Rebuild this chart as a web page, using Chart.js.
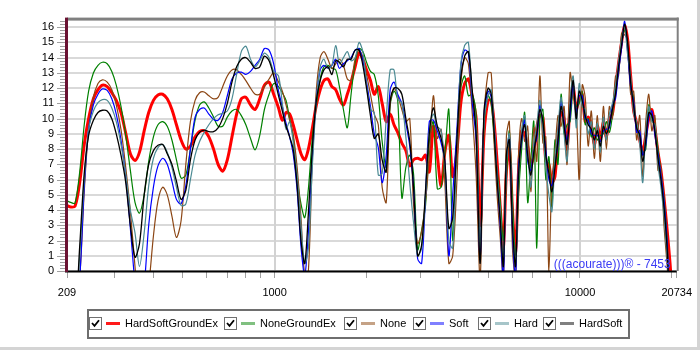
<!DOCTYPE html>
<html>
<head>
<meta charset="utf-8">
<script src="https://cdn.jsdelivr.net/npm/chart.js@4.4.0/dist/chart.umd.min.js"></script>
<style>
  html, body { margin: 0; padding: 0; background: #fff; }
  #wrap { position: relative; width: 700px; height: 350px; overflow: hidden; font-family: "Liberation Sans", Arial, sans-serif; }
  #wrap canvas { position: absolute; left: 0; top: 0; }
  #edgeR { position: absolute; left: 697px; top: 0; width: 3px; height: 350px; background: #d4d4d4; }
  #edgeB { position: absolute; left: 0; top: 347px; width: 700px; height: 3px; background: #d4d4d4; }
  #legend { position: absolute; left: 87px; top: 309px; width: 539px; height: 26px; border: 2px solid #6e6e6e; }
  .item { position: absolute; top: 0; height: 26px; font-size: 11px; color: #000; }
  .cb { position: absolute; left: 0; top: 6px; width: 11px; height: 11px; border: 1px solid #707070; background: #fff; }
  .cb svg { position: absolute; left: 1px; top: 1px; }
  .sw { position: absolute; left: 17px; top: 11px; width: 14px; height: 3px; }
  .tx { position: absolute; left: 36px; top: 6px; white-space: nowrap; line-height: 13px; }
</style>
</head>
<body>
<div id="wrap">
  <canvas id="c" width="700" height="350"></canvas>
  <div id="legend"></div>
  <div id="edgeR"></div>
  <div id="edgeB"></div>
</div>
<script>
// frequenze (Hz)
const freqs = [
  209, 215, 222, 230, 238, 246, 255, 264, 273, 283, 293, 303, 314, 325, 337, 349, 361, 374, 387, 401, 415, 430, 445,
  461, 477, 494, 512, 530, 549, 568, 588, 609, 631, 653, 676, 700, 725, 751, 778, 805, 834, 863, 894, 926, 959, 993,
  1030, 1060, 1090, 1120, 1150, 1185, 1220, 1255, 1290, 1330, 1370, 1410, 1450, 1495, 1540, 1585, 1630, 1680, 1730, 1780,
  1835, 1890, 1945, 2000, 2060, 2120, 2185, 2250, 2320, 2390, 2460, 2530, 2610, 2690, 2770, 2850, 2940, 3030, 3120, 3210,
  3310, 3410, 3510, 3610, 3720, 3830, 3950, 4070, 4190, 4310, 4440, 4570, 4710, 4850, 5000,
  5120, 5240, 5360, 5480, 5610, 5740, 5870, 6010, 6150, 6290, 6440, 6590, 6740, 6900, 7060, 7220, 7390, 7560, 7730, 7910,
  8090, 8280, 8470, 8670, 8870, 9070, 9280, 9500, 9720, 9940, 10170, 10400, 10640, 10890, 11140, 11400, 11660, 11930, 12200, 12480,
  12770, 13070, 13370, 13680, 14000, 14320, 14650, 14990, 15330, 15690, 16050, 16420, 16800, 17190, 17590, 18000, 18410, 18840, 19270, 19720,
  20170, 20734
];

const hardSoftGroundEx = [
  4.3, 4.2, 4.25, 5.8, 8.3, 10.0, 11.3, 11.9, 12.2, 12.1, 11.7, 11.2, 10.4, 9.1, 7.7, 7.25, 7.8, 9.2, 10.4, 11.2, 11.55, 11.6, 11.3,
  10.6, 9.6, 8.6, 8.0, 8.2, 8.8, 9.15, 9.2, 8.8, 8.0, 7.0, 6.55, 7.3, 8.8, 10.3, 11.3, 11.4, 10.9, 10.6, 11.3, 12.2, 12.4, 11.6,
  10.7, 9.9, 10.4, 10.3, 9.6, 8.6, 7.7, 7.3, 8.0, 9.4, 10.9, 11.9, 12.5, 12.6, 12.1, 11.9, 11.3, 10.9, 11.6, 12.4,
  13.4, 14.3, 13.9, 13.2, 12.5, 11.6, 12.1, 11.0, 9.8, 10.3, 9.6, 9.1, 8.4, 7.9, 6.9, 7.3, 7.4, 7.3, 7.6, 6.5,
  9.5, 7.6, 5.6, 7.8, 8.9, 6.2, 7.8, 11.0, 12.3, 12.6, 11.4, 10.0, 3.0, 9.0, 11.2,
  11.2, 9.6, 7.0, 4.2, 1.5, 6.5, 8.2, 4.0, 1.2, 6.5, 9.2, 9.0, 8.2, 7.0, 7.6, 9.4, 10.2, 10.1, 7.2, 7.0,
  5.8, 6.2, 8.8, 10.4, 10.0, 8.0, 10.9, 12.1, 10.6, 11.3, 11.6, 9.8, 10.1, 9.6, 8.3, 9.5, 8.7, 9.8, 8.8, 10.0,
  10.3, 12.0, 13.6, 15.0, 16.1, 15.2, 12.8, 10.5, 9.7, 8.6, 7.8, 8.9, 10.0, 10.6, 9.4, 7.8, 6.6, 4.8, 2.8, 0.5,
  -2, -2
];

const noneGroundEx = [
  4.6, 4.5, 4.45, 6.5, 9.6, 11.8, 13.0, 13.5, 13.7, 13.6, 13.1, 12.2, 10.8, 9.0, 6.6, 4.5, 3.8, 5.0, 7.2, 8.8, 9.6, 9.8, 9.5,
  8.6, 7.3, 6.1, 6.3, 8.0, 9.9, 10.9, 11.1, 10.7, 10.1, 9.5, 9.5, 10.1, 10.5, 10.6, 10.2, 9.6, 8.7, 7.95, 8.9, 10.6, 11.6, 12.3,
  12.1, 11.7, 11.2, 10.0, 8.8, 6.1, 4.4, 3.5, 5.4, 8.8, 10.9, 12.6, 13.4, 13.5, 13.3, 13.2, 12.1, 10.6, 9.4, 11.6,
  13.7, 14.6, 14.4, 13.7, 13.1, 12.9, 11.5, 8.5, 6.8, 10.9, 11.8, 11.2, 4.8, 6.8, 7.6, 6.4, 1.4, 2.7, 4.3, 8.5,
  9.8, 5.4, 5.5, 7.7, 10.6, 2.0, 8.6, 12.0, 12.8, 11.5, 11.6, 10.2, 1.0, 9.5, 11.5,
  11.0, 8.5, 6.5, 4.5, 2.0, 6.0, 9.2, 4.5, 1.0, 5.0, 8.0, 10.4, 4.5, 7.2, 9.8, 1.5, 10.0, 10.6, 6.0, 7.5,
  4.2, 8.6, 7.0, 11.6, 9.0, 9.6, 9.8, 12.0, 10.8, 11.0, 11.8, 9.6, 10.0, 8.8, 9.4, 8.6, 8.9, 9.0, 9.8, 9.1,
  10.2, 11.8, 13.0, 14.9, 15.8, 14.8, 12.0, 11.4, 9.2, 9.0, 7.8, 8.0, 10.9, 10.0, 9.5, 8.0, 6.5, 4.8, 2.2, -2,
  -2, -2
];

const none = [
  -3, -3, -3, -0.5, 5.2, 9.3, 11.4, 12.3, 12.55, 12.4, 11.9, 10.9, 9.3, 6.9, 3.9, 0.3, -3, -3, -1, 2.3, 4.6, 5.5, 5.0,
  3.6, 2.2, 3.3, 7.0, 9.8, 11.2, 11.7, 11.75, 11.5, 11.3, 11.4, 12.1, 12.8, 13.2, 13.2, 12.9, 12.5, 12.0, 11.6, 11.6, 12.1, 12.6, 13.0,
  12.4, 11.8, 10.9, 9.9, 9.0, 6.8, 3.5, -0.3, 0.0, 7.6, 11.9, 14.0, 14.4, 13.9, 13.3, 13.6, 13.9, 13.5, 12.6, 12.5,
  13.9, 14.5, 14.0, 12.9, 11.6, 10.3, 9.6, 5.5, 4.5, 11.0, 12.0, 11.5, 10.6, 9.8, 10.0, 4.4, 1.8, 2.6, 4.6, 7.5,
  11.5, 8.7, 9.3, 5.8, 0.5, 1.0, 5.8, 12.2, 14.0, 13.6, 10.3, 6.3, -0.5, 10.0, 13.0,
  13.0, 8.2, 4.8, 2.2, -0.5, 8.8, 9.8, 1.5, -0.5, 7.5, 10.0, 8.5, 9.5, 5.2, 9.4, 7.2, 12.8, 8.4, 8.8, 0.0,
  6.0, 7.8, 10.2, 9.5, 10.8, 7.0, 13.0, 11.5, 10.5, 6.0, 12.2, 11.4, 8.2, 10.5, 7.4, 10.2, 7.2, 10.8, 8.0, 10.8,
  10.0, 12.8, 12.8, 15.6, 15.5, 15.2, 11.6, 11.8, 8.6, 10.2, 6.2, 9.8, 11.6, 9.2, 10.2, 6.6, 6.8, 3.0, 0.5, -2,
  -2, -2
];

const soft = [
  -3, -3, -3, -0.5, 5.5, 9.3, 10.9, 11.6, 11.95, 11.85, 11.3, 10.3, 8.6, 6.3, 2.8, -0.8, -3, -1, 3.0, 5.5, 6.9, 7.4, 7.0,
  5.9, 4.7, 4.4, 5.6, 8.0, 10.1, 10.6, 10.7, 10.3, 9.95, 9.9, 10.4, 11.5, 12.6, 13.0, 13.05, 12.9, 13.1, 13.5, 13.9, 14.6, 14.5, 13.6,
  11.8, 10.8, 9.7, 8.8, 7.7, 5.3, 1.6, -0.3, 2.5, 7.5, 11.3, 13.2, 13.5, 13.3, 13.5, 13.9, 13.3, 13.6, 13.8, 14.0,
  14.5, 14.6, 13.8, 12.4, 10.8, 9.0, 8.1, 5.8, 7.6, 11.9, 12.4, 11.6, 11.0, 9.7, 8.2, 5.5, 0.8, 0.5, 5.0, 9.8,
  9.9, 9.2, 8.4, 7.2, 1.0, 5.0, 9.2, 13.4, 14.5, 14.3, 11.0, 8.6, 0.8, 10.2, 11.8,
  11.4, 9.3, 6.0, 3.0, -0.5, 7.2, 8.9, 2.5, -0.5, 6.8, 8.5, 9.9, 7.2, 6.6, 8.1, 8.7, 10.9, 9.5, 7.9, 6.0,
  5.6, 7.1, 8.3, 11.1, 9.8, 8.6, 10.2, 12.2, 10.4, 11.5, 11.5, 10.0, 9.9, 9.0, 8.9, 8.9, 8.5, 9.2, 9.3, 9.4,
  10.9, 11.3, 13.1, 14.6, 16.4, 14.4, 12.1, 11.1, 9.1, 9.2, 7.6, 8.3, 10.1, 10.5, 8.9, 7.7, 6.3, 4.6, 2.0, -2,
  -2, -2
];

const hard = [
  -3, -3, -3, 1.0, 6.0, 9.3, 10.5, 11.05, 11.25, 11.2, 10.7, 9.8, 8.3, 6.4, 4.0, 2.5, 0.3, 2.5, 5.6, 7.4, 8.1, 8.3, 7.8,
  6.8, 5.5, 4.3, 4.4, 6.0, 7.6, 8.5, 9.1, 9.6, 10.0, 10.25, 10.35, 10.5, 11.3, 12.9, 14.4, 14.75, 13.9, 13.4, 13.8, 14.3, 14.0, 13.1,
  12.8, 11.0, 9.3, 9.8, 8.5, 6.2, 3.0, 0.5, 1.5, 7.0, 11.2, 13.4, 13.9, 13.3, 13.5, 14.8, 13.6, 14.0, 14.4, 13.8,
  14.0, 15.0, 14.4, 12.2, 10.6, 10.4, 6.3, 6.4, 10.0, 13.2, 13.2, 11.3, 11.0, 8.8, 5.8, 3.2, 1.0, 1.5, 5.0, 9.2,
  10.3, 9.5, 9.2, 7.0, 2.0, 1.5, 8.3, 13.6, 14.8, 15.0, 11.5, 9.7, 1.5, 9.8, 11.5,
  11.9, 9.5, 6.2, 4.0, 0.8, 7.0, 9.0, 3.5, 0.5, 5.6, 9.3, 10.2, 8.0, 5.5, 8.4, 9.6, 11.2, 9.3, 6.8, 5.0,
  3.9, 7.4, 9.4, 11.4, 9.0, 7.2, 11.2, 12.8, 9.4, 12.3, 10.8, 10.6, 9.0, 9.8, 8.0, 9.7, 7.8, 10.1, 8.6, 10.3,
  11.0, 12.2, 13.8, 15.2, 16.0, 14.2, 12.8, 10.3, 9.8, 8.3, 5.8, 9.2, 10.8, 9.8, 9.6, 7.0, 5.5, 3.6, 1.0, -2,
  -2, -2
];

const hardSoft = [
  -3, -3, -3, 1.6, 6.4, 8.9, 9.9, 10.4, 10.55, 10.5, 10.0, 9.0, 7.6, 5.9, 3.0, 0.9, 1.8, 5.0, 7.0, 7.9, 8.25, 8.3, 7.7,
  7.0, 5.9, 4.7, 5.3, 7.3, 8.6, 9.1, 9.25, 9.15, 9.15, 9.4, 10.0, 11.0, 12.4, 13.4, 13.9, 14.0, 13.7, 13.3, 13.4, 14.1, 13.8, 12.8,
  11.5, 10.5, 9.5, 8.8, 8.0, 5.6, 2.0, 0.5, 3.8, 8.2, 11.2, 12.5, 13.2, 13.4, 12.9, 13.8, 13.7, 13.4, 13.9, 13.9,
  14.5, 14.5, 13.5, 12.0, 10.2, 8.7, 9.0, 7.3, 6.5, 11.2, 12.0, 12.0, 11.6, 10.0, 8.5, 5.5, 1.0, 1.7, 5.3, 9.0,
  10.7, 9.5, 8.7, 7.2, 2.8, 3.5, 8.5, 12.7, 14.1, 14.4, 11.8, 9.0, 0.5, 10.5, 12.0,
  11.6, 9.0, 5.8, 3.4, 0.3, 7.6, 8.6, 3.0, 0.3, 6.3, 8.8, 9.6, 7.6, 6.3, 7.8, 9.0, 10.6, 9.8, 7.6, 6.4,
  5.2, 6.8, 8.6, 10.8, 9.5, 8.3, 10.6, 12.5, 10.0, 11.8, 11.2, 10.2, 9.6, 9.3, 8.6, 9.2, 8.2, 9.5, 9.0, 9.6,
  10.6, 11.6, 13.4, 14.8, 16.2, 15.0, 12.4, 10.8, 9.4, 8.9, 7.2, 8.6, 10.4, 10.2, 9.2, 7.4, 6.0, 4.2, 1.6, -2,
  -2, -2
];

const seriesNames = ['HardSoftGroundEx', 'NoneGroundEx', 'None', 'Soft', 'Hard', 'HardSoft'];
const seriesValues = [hardSoftGroundEx, noneGroundEx, none, soft, hard, hardSoft];
const lineColors = ['#ff0000', '#008000', '#8b4513', '#0000ff', '#4b8a93', '#000000'];
const swatchColors = ['#ff1a1a', '#80c080', '#c5a286', '#8080ff', '#a6c5c9', '#808080'];
const lineWidths = [3, 1.2, 1.2, 1.2, 1.2, 1.3];

const xTicks = [209, 300, 400, 500, 600, 700, 800, 900, 1000, 2000, 3000, 4000, 5000, 6000, 7000, 8000, 9000, 10000, 20000, 20734];
const xLabels = [209, 1000, 10000, 20734];
const xGridAt = [1000, 10000];
const yTicks = [0, 1, 2, 3, 4, 5, 6, 7, 8, 9, 10, 11, 12, 13, 14, 15, 16];

// legenda con le caselline
const legendPos = [89, 224, 344, 413, 478, 543];
const legend = document.getElementById('legend');
seriesNames.forEach((name, i) => {
  const item = document.createElement('div');
  item.className = 'item';
  item.style.left = (legendPos[i] - 89) + 'px';
  item.innerHTML =
    '<span class="cb"><svg width="9" height="9"><path d="M1 4 L3.5 6.8 L8 1.2" stroke="#000" stroke-width="1.8" fill="none"/></svg></span>' +
    '<span class="sw" style="background:' + swatchColors[i] + '"></span>' +
    '<span class="tx">' + name + '</span>';
  legend.appendChild(item);
});

// griglia verticale, bordi, tacche minori e scritta
const framePlugin = {
  id: 'frame',
  beforeDatasetsDraw(chart) {
    const { ctx, chartArea: a, scales: { x } } = chart;
    ctx.save();
    ctx.fillStyle = '#d2d2d2';
    xGridAt.forEach(v => {
      const px = Math.round(x.getPixelForValue(v));
      ctx.fillRect(px - 1, a.top, 2, a.bottom - a.top);
    });
    ctx.restore();
  },
  afterDatasetsDraw(chart) {
    const { ctx, chartArea: a, scales: { y } } = chart;
    ctx.save();
    ctx.strokeStyle = '#a0a0a0';
    ctx.lineWidth = 1;
    for (let i = 0; i <= 82; i++) {
      const py = Math.round(y.getPixelForValue(i / 5)) + 0.5;
      const len = i % 5 === 0 ? 10 : 7;
      ctx.beginPath();
      ctx.moveTo(a.left - len, py);
      ctx.lineTo(a.left, py);
      ctx.stroke();
    }
    ctx.fillStyle = '#808080';
    ctx.fillRect(a.left, a.top - 2, a.right - a.left + 2, 3);
    ctx.fillRect(a.right, a.top - 2, 2, a.bottom - a.top + 2);
    ctx.fillStyle = '#000';
    ctx.fillRect(a.left - 2, a.bottom - 0.5, a.right - a.left + 2, 2);
    ctx.fillStyle = '#6a1232';
    ctx.fillRect(a.left - 2, a.top - 2, 3, a.bottom - a.top + 3);

    ctx.font = '12px "Liberation Sans", Arial, sans-serif';
    ctx.fillStyle = '#3b3bf5';
    ctx.textAlign = 'right';
    ctx.textBaseline = 'alphabetic';
    ctx.fillText('(((acourate)))® - 7453', a.right - 6, a.bottom - 3);
    ctx.restore();
  }
};

Chart.defaults.font.family = '"Liberation Sans", Arial, sans-serif';
Chart.defaults.font.size = 11;
Chart.defaults.color = '#000';

const datasets = seriesNames.map((name, i) => ({
  label: name,
  data: freqs.map((f, k) => ({ x: f, y: seriesValues[i][k] })),
  borderColor: lineColors[i],
  borderWidth: lineWidths[i],
  pointRadius: 0,
  tension: 0.3,
  fill: false,
  clip: 0,
  order: i === 0 ? 6 : 6 - i
}));

new Chart(document.getElementById('c'), {
  type: 'line',
  data: { datasets },
  options: {
    responsive: false,
    animation: false,
    devicePixelRatio: 1,
    // la scala y aggiunge ~8px sopra, quindi il bordo finisce a 15
    layout: { padding: { top: 6.8, right: 22, left: 0, bottom: 0 } },
    plugins: { legend: { display: false }, tooltip: { enabled: false } },
    scales: {
      x: {
        type: 'logarithmic',
        min: 209,
        max: 20734,
        border: { display: false },
        afterBuildTicks: s => { s.ticks = xTicks.map(v => ({ value: v })); },
        afterFit: s => { s.height = 79; },
        ticks: {
          autoSkip: false,
          maxRotation: 0,
          padding: 8,
          callback: v => xLabels.includes(v) ? String(v) : ''
        },
        grid: {
          drawOnChartArea: false,
          tickColor: '#a0a0a0',
          tickLength: 7,
          tickWidth: 1
        }
      },
      y: {
        min: 0,
        max: 16.5,
        border: { display: false },
        afterBuildTicks: s => { s.ticks = yTicks.map(v => ({ value: v })); },
        afterFit: s => { s.width = 67; },
        ticks: { padding: 13, autoSkip: false },
        grid: { color: '#d9d9d9', lineWidth: 2, drawTicks: false }
      }
    }
  },
  plugins: [framePlugin]
});
</script>
</body>
</html>
